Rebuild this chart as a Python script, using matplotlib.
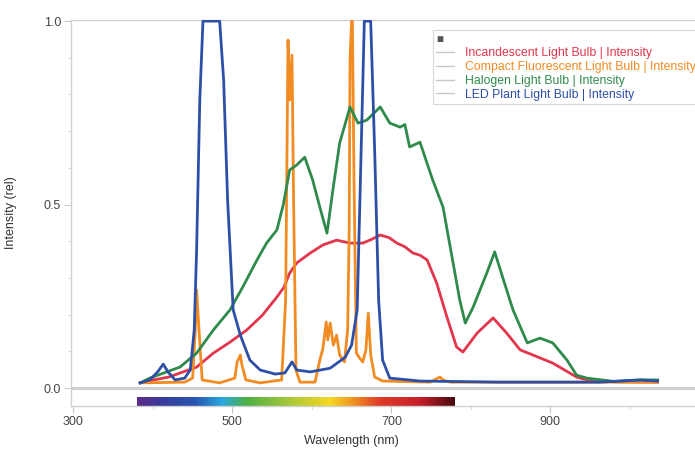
import matplotlib
matplotlib.use("Agg")
import matplotlib.pyplot as plt
import matplotlib.lines as mlines
from matplotlib.colors import LinearSegmentedColormap
import numpy as np

plt.rcParams['font.family'] = ['Liberation Sans', 'DejaVu Sans']

# spectra: wavelength (nm), intensity (rel)
inc_nm = [384, 396, 420, 455, 476, 497, 518, 538, 556, 565, 572, 581, 598, 614, 631, 648,
          664, 675, 686, 697, 707, 717, 727, 736, 745, 757, 770, 782, 790, 808, 828, 845,
          862, 878, 903, 933, 946, 980, 1035]
inc_val = [0.014, 0.020, 0.030, 0.057, 0.095, 0.125, 0.158, 0.199, 0.248, 0.275, 0.313,
           0.341, 0.368, 0.390, 0.403, 0.395, 0.395, 0.405, 0.417, 0.410, 0.395, 0.385,
           0.368, 0.362, 0.349, 0.286, 0.193, 0.112, 0.098, 0.150, 0.191, 0.150, 0.104,
           0.090, 0.068, 0.030, 0.022, 0.017, 0.016]

cfl_nm = [384, 440, 450, 454, 455, 458, 462, 484, 503, 506, 510, 512, 517, 535, 562, 567,
          570, 572, 575, 577, 580, 585, 604, 610, 614, 618, 620, 623, 627, 631, 635, 641,
          645, 647, 648, 650, 651, 653, 656, 660, 664, 668, 671, 674, 679, 689, 749, 761,
          765, 774, 1035]
cfl_val = [0.014, 0.016, 0.027, 0.185, 0.267, 0.158, 0.022, 0.014, 0.027, 0.071, 0.090,
           0.063, 0.022, 0.014, 0.022, 0.240, 0.948, 0.785, 0.907, 0.512, 0.049, 0.016,
           0.016, 0.076, 0.109, 0.180, 0.131, 0.177, 0.117, 0.144, 0.090, 0.071, 0.158,
           0.439, 0.894, 1.0, 1.0, 0.567, 0.095, 0.082, 0.071, 0.104, 0.204, 0.090,
           0.030, 0.019, 0.016, 0.030, 0.022, 0.016, 0.016]

hal_nm = [384, 396, 434, 455, 476, 497, 513, 531, 543, 556, 564, 572, 581, 591, 601, 610,
          619, 627, 635, 648, 658, 669, 686, 698, 711, 717, 723, 736, 752, 765, 777, 786,
          793, 803, 820, 830, 840, 853, 871, 887, 903, 921, 933, 946, 980, 1013, 1035]
hal_val = [0.014, 0.027, 0.057, 0.095, 0.158, 0.213, 0.275, 0.349, 0.395, 0.431, 0.499,
           0.594, 0.608, 0.629, 0.567, 0.493, 0.422, 0.548, 0.668, 0.766, 0.722, 0.730,
           0.766, 0.722, 0.711, 0.718, 0.657, 0.670, 0.567, 0.493, 0.349, 0.240, 0.177,
           0.221, 0.313, 0.371, 0.302, 0.213, 0.123, 0.136, 0.123, 0.076, 0.035, 0.027,
           0.018, 0.022, 0.022]

led_nm = [384, 396, 406, 413, 419, 428, 440, 447, 452, 455, 459, 463, 484, 489, 494, 501,
          510, 522, 535, 554, 566, 575, 581, 598, 623, 642, 650, 657, 662, 666, 674, 679,
          684, 689, 698, 736, 836, 962, 1013, 1035]
led_val = [0.014, 0.022, 0.044, 0.065, 0.044, 0.022, 0.027, 0.049, 0.158, 0.376, 0.785,
           1.0, 1.0, 0.839, 0.512, 0.213, 0.144, 0.076, 0.049, 0.038, 0.041, 0.071, 0.049,
           0.044, 0.054, 0.084, 0.117, 0.213, 0.648, 1.0, 1.0, 0.648, 0.240, 0.076, 0.027,
           0.019, 0.016, 0.016, 0.022, 0.019]

labels = ["Incandescent Light Bulb | Intensity",
          "Compact Fluorescent Light Bulb | Intensity",
          "Halogen Light Bulb | Intensity",
          "LED Plant Light Bulb | Intensity"]
colors = ["#e2364c", "#f28b22", "#2f8a4c", "#2d4fa6"]

# visible spectrum strip under the axis
rainbow_nm = [380, 409, 453, 487, 516, 572, 623, 648, 686, 736, 780]
rainbow_col = ["#5b2a86", "#3a3a9a", "#2856b0", "#2aa8e0", "#4cb048", "#a8c83a",
               "#f5d820", "#f0a020", "#e03a2a", "#c81e28", "#4a0a10"]

fig = plt.figure(figsize=(6.95, 4.53), dpi=100)
ax = fig.add_axes([70.7 / 695, 47 / 453, 624.3 / 695, 386 / 453])

for x, y, c in zip([inc_nm, cfl_nm, hal_nm, led_nm], [inc_val, cfl_val, hal_val, led_val], colors):
    ax.plot(x, y, color=c, lw=2.0, solid_joinstyle='round', zorder=3)

ax.axhline(0, color='#cfcfcf', lw=2.2, zorder=1)

pos = [(n - rainbow_nm[0]) / (rainbow_nm[-1] - rainbow_nm[0]) for n in rainbow_nm]
cmap = LinearSegmentedColormap.from_list('spec', list(zip(pos, rainbow_col)))
ax.imshow(np.linspace(0, 1, 400)[None, :], cmap=cmap, aspect='auto',
          extent=[rainbow_nm[0], rainbow_nm[-1], -0.048, -0.026], zorder=2)

ax.set_xlim(296.6, 1082)
ax.set_ylim(-0.049, 1.003)
ax.set_xticks([300, 500, 700, 900])
ax.set_xticks([400, 600, 800, 1000], minor=True)
ax.set_yticks([0.0, 0.5, 1.0])
ax.set_yticklabels(["0.0", "0.5", "1.0"])
ax.set_yticks(np.arange(0.1, 1.0, 0.1), minor=True)

for s in ['top', 'left', 'bottom']:
    ax.spines[s].set_color('#d0d0d0')
    ax.spines[s].set_linewidth(1.0)
ax.spines['right'].set_visible(False)
ax.tick_params(which='major', length=5, color='#c8c8c8', labelsize=9, labelcolor='#444444', pad=2)
ax.tick_params(which='minor', length=2.5, color='#c8c8c8')

ax.set_xlabel("Wavelength (nm)", fontsize=9, color='#333333')
ax.xaxis.set_label_coords(0.45, -0.075)
ax.set_ylabel("Intensity (rel)", fontsize=9, color='#333333')
ax.yaxis.set_label_coords(-0.086, 0.5)

handles = [mlines.Line2D([], [], color='#c8c8c8', lw=1.0) for _ in labels]
leg = ax.legend(handles, labels, loc='upper left', bbox_to_anchor=(0.580, 0.974),
                fontsize=8.8, labelcolor=colors, title="\u25a0", title_fontsize=8.5,
                alignment='left', frameon=True, fancybox=False, framealpha=1,
                edgecolor='#d8d8d8', handlelength=1.4, handletextpad=0.9,
                labelspacing=0.14, borderpad=0.3, borderaxespad=0)
leg.get_title().set_color('#555555')
leg.get_frame().set_linewidth(0.8)

fig.savefig("out.png", dpi=100)
